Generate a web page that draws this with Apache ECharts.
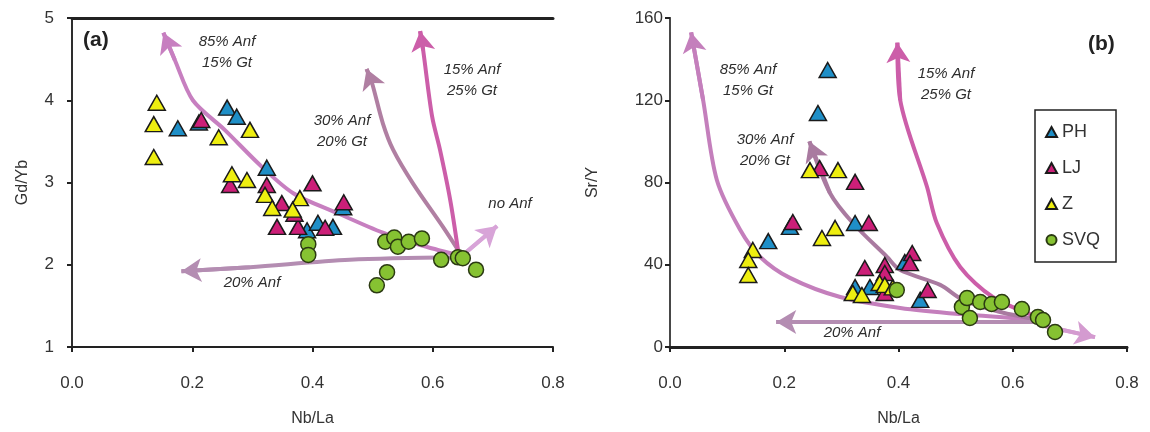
<!DOCTYPE html>
<html>
<head>
<meta charset="utf-8">
<script src="https://cdn.jsdelivr.net/npm/echarts@6/dist/echarts.min.js"></script>
<style>
  html, body { margin: 0; padding: 0; background: #fff; }
  #chart { width: 1150px; height: 432px; }
</style>
</head>
<body>
<div id="chart"></div>
<script>
// panel (a) Gd/Yb vs Nb/La
const phA = [[0.176, 3.66], [0.258, 3.91], [0.274, 3.80], [0.211, 3.73], [0.324, 3.18], [0.391, 2.42], [0.409, 2.51], [0.434, 2.46], [0.451, 2.70]];
const ljA = [[0.215, 3.76], [0.263, 2.97], [0.324, 2.97], [0.349, 2.75], [0.341, 2.46], [0.376, 2.46], [0.370, 2.62], [0.400, 2.99], [0.421, 2.45], [0.452, 2.76]];
const zA = [[0.141, 3.97], [0.136, 3.71], [0.136, 3.31], [0.244, 3.55], [0.296, 3.64], [0.266, 3.10], [0.291, 3.03], [0.321, 2.85], [0.333, 2.69], [0.379, 2.81], [0.367, 2.67]];
const svqA = [[0.393, 2.25], [0.393, 2.12], [0.521, 2.28], [0.536, 2.33], [0.542, 2.22], [0.560, 2.28], [0.582, 2.32], [0.614, 2.06], [0.642, 2.09], [0.650, 2.08], [0.672, 1.94], [0.524, 1.91], [0.507, 1.75]];

// panel (b) Sr/Y vs Nb/La
const phB = [[0.276, 134.7], [0.259, 113.8], [0.172, 51.5], [0.210, 58.4], [0.324, 60.3], [0.324, 29.2], [0.350, 29.2], [0.411, 41.3], [0.438, 22.9]];
const ljB = [[0.262, 87], [0.324, 80.3], [0.215, 60.8], [0.348, 60.3], [0.341, 38.4], [0.376, 39.9], [0.376, 36], [0.424, 45.7], [0.420, 40.8], [0.451, 27.7], [0.376, 26.3]];
const zB = [[0.245, 86], [0.294, 86], [0.145, 47.2], [0.137, 42.3], [0.137, 35], [0.266, 53], [0.289, 57.9], [0.320, 26.3], [0.336, 25.3], [0.367, 31.1], [0.376, 30.2], [0.390, 29]];
const svqB = [[0.397, 27.7], [0.511, 19.5], [0.520, 23.8], [0.525, 14.1], [0.543, 21.9], [0.563, 20.9], [0.581, 21.9], [0.616, 18.5], [0.644, 14.6], [0.653, 13.1], [0.674, 7.3]];

// model curves (start at source, end at arrow head)
const a85 = [[0.640, 2.12], [0.579, 2.24], [0.517, 2.39], [0.441, 2.63], [0.368, 2.87], [0.313, 3.21], [0.254, 3.64], [0.201, 4.00], [0.171, 4.49], [0.152, 4.82]];
const a30 = [[0.642, 2.18], [0.617, 2.46], [0.567, 2.99], [0.534, 3.40], [0.517, 3.72], [0.499, 4.21], [0.490, 4.38]];
const a15 = [[0.642, 2.18], [0.629, 2.79], [0.612, 3.40], [0.599, 3.80], [0.584, 4.61], [0.579, 4.84]];
const a20 = [[0.640, 2.09], [0.462, 2.06], [0.296, 1.97], [0.182, 1.92]];
const aNo = [[0.657, 2.16], [0.707, 2.47]];

const b85 = [[0.648, 13.1], [0.508, 16.0], [0.403, 19.0], [0.298, 24.3], [0.210, 33.6], [0.158, 43.8], [0.123, 56.9], [0.082, 81.2], [0.058, 120.1], [0.037, 153]];
const b30 = [[0.648, 13.1], [0.578, 17.0], [0.513, 22.9], [0.473, 30.2], [0.403, 37.4], [0.380, 43.8], [0.320, 60.3], [0.280, 74.9], [0.244, 100]];
const b15 = [[0.648, 14.1], [0.565, 24.3], [0.508, 38.9], [0.467, 60.3], [0.450, 77.8], [0.403, 120.1], [0.398, 148]];
const b20 = [[0.648, 12.2], [0.186, 12.2]];
const bNo = [[0.648, 10.7], [0.744, 4.8]];

const FONT = 'Liberation Sans, Arial, sans-serif';
const chart = echarts.init(document.getElementById('chart'));

function pts(name, data, i, symbol, color, border) {
  return {
    name: name,
    type: 'scatter',
    xAxisIndex: i,
    yAxisIndex: i,
    data: data,
    symbol: symbol,
    symbolSize: symbol === 'circle' ? 15 : [17, 15],
    z: 5,
    itemStyle: {color: color, borderColor: border, borderWidth: 1.5, opacity: 1}
  };
}

function curve(data, i, color) {
  const n = data.length;
  return {
    type: 'line',
    xAxisIndex: i,
    yAxisIndex: i,
    data: data,
    smooth: 0.3,
    showSymbol: false,
    symbol: 'none',
    silent: true,
    z: 2,
    lineStyle: {color: color, width: 4},
    markLine: {
      silent: true,
      symbol: ['none', 'arrow'],
      symbolSize: [18, 20],
      label: {show: false},
      lineStyle: {color: color, width: 4, type: 'solid'},
      data: [[{coord: data[n - 2]}, {coord: data[n - 1]}]]
    }
  };
}

function xAx(i) {
  return {
    type: 'value', gridIndex: i, min: 0, max: 0.8, interval: 0.2,
    name: 'Nb/La', nameLocation: 'middle', nameGap: 64,
    nameTextStyle: {fontFamily: FONT, fontSize: 16, color: '#333'},
    axisLine: {show: true, lineStyle: {color: '#222', width: 2}},
    axisTick: {show: true, length: 5, lineStyle: {color: '#222', width: 2}},
    axisLabel: {fontFamily: FONT, fontSize: 17, color: '#333', margin: 28, formatter: (v) => v.toFixed(1)},
    splitLine: {show: false}
  };
}

function yAx(i, min, max, interval, name, gap, margin) {
  return {
    type: 'value', gridIndex: i, min: min, max: max, interval: interval,
    name: name, nameLocation: 'middle', nameGap: gap, nameRotate: 90,
    nameTextStyle: {fontFamily: FONT, fontSize: 16, color: '#333'},
    axisLine: {show: true, lineStyle: {color: '#222', width: 2}},
    axisTick: {show: true, length: 5, lineStyle: {color: '#222', width: 2}},
    axisLabel: {fontFamily: FONT, fontSize: 17, color: '#333', margin: margin},
    splitLine: {show: false}
  };
}

function frameX(i, w) {
  return {type: 'value', gridIndex: i, position: 'top', min: 0, max: 0.8,
    axisLine: {show: true, lineStyle: {color: '#222', width: w}},
    axisTick: {show: false}, axisLabel: {show: false}, splitLine: {show: false}};
}
function frameY(i, min, max, c) {
  return {type: 'value', gridIndex: i, position: 'right', min: min, max: max,
    axisLine: {show: true, lineStyle: {color: c, width: 1.5}},
    axisTick: {show: false}, axisLabel: {show: false}, splitLine: {show: false}};
}

function note(x, y, lines, extra) {
  return Object.assign({
    type: 'text', x: x, y: y, z: 10,
    style: {
      text: lines, fill: '#2e2e2e', font: 'italic 15px ' + FONT,
      align: 'center', verticalAlign: 'middle', lineHeight: 21
    }
  }, extra || {});
}

const colPH = '#1f8fc7', colLJ = '#cc1f78', colZ = '#eeee10', colSVQ = '#86c232';

chart.setOption({
  animation: false,
  backgroundColor: '#fff',
  grid: [
    {left: 72, top: 18, width: 481, height: 329},
    {left: 670, top: 18, width: 457, height: 329}
  ],
  xAxis: [xAx(0), xAx(1), frameX(0, 3), frameX(1, 3)],
  yAxis: [
    yAx(0, 1, 5, 1, 'Gd/Yb', 41, 18),
    yAx(1, 0, 160, 40, 'Sr/Y', 69, 7),
    frameY(0, 1, 5, '#333'), frameY(1, 0, 160, '#555')
  ],
  legend: {
    data: ['PH', 'LJ', 'Z', 'SVQ'],
    orient: 'vertical',
    left: 1035, top: 110,
    padding: [13, 16, 13, 10],
    itemGap: 18,
    itemWidth: 11, itemHeight: 10,
    backgroundColor: '#fff',
    borderColor: '#222', borderWidth: 1.5, borderRadius: 0,
    textStyle: {fontFamily: FONT, fontSize: 18, color: '#333'},
    selectedMode: false
  },
  graphic: [
    {type: 'text', x: 83, y: 30, z: 10, style: {text: '(a)', font: 'bold 21px ' + FONT, fill: '#222'}},
    {type: 'text', x: 1088, y: 34, z: 10, style: {text: '(b)', font: 'bold 21px ' + FONT, fill: '#222'}},
    note(227, 52, '85% Anf\n15% Gt'),
    note(342, 131, '30% Anf\n20% Gt'),
    note(472, 80, '15% Anf\n25% Gt'),
    note(252, 283, '20% Anf'),
    note(510, 204, 'no Anf'),
    note(748, 80, '85% Anf\n15% Gt'),
    note(765, 150, '30% Anf\n20% Gt'),
    note(946, 84, '15% Anf\n25% Gt'),
    note(852, 333, '20% Anf'),
    note(1090, 320, 'no Anf', {rotation: -0.45, originX: 1090, originY: 320})
  ],
  series: [
    curve(a85, 0, '#c77fc0'),
    curve(a30, 0, '#b07fa2'),
    curve(a15, 0, '#cc5ea9'),
    curve(a20, 0, '#b48db2'),
    curve(aNo, 0, '#d8a4d8'),
    curve(b85, 1, '#c47fbc'),
    curve(b30, 1, '#a97aa0'),
    curve(b15, 1, '#cc5ea9'),
    curve(b20, 1, '#b48db2'),
    curve(bNo, 1, '#d49bd0'),
    pts('PH', phA, 0, 'triangle', colPH, '#1a1a1a'),
    pts('LJ', ljA, 0, 'triangle', colLJ, '#1a1a1a'),
    pts('Z', zA, 0, 'triangle', colZ, '#1a1a1a'),
    pts('SVQ', svqA, 0, 'circle', colSVQ, '#2b3a12'),
    pts('PH', phB, 1, 'triangle', colPH, '#1a1a1a'),
    pts('LJ', ljB, 1, 'triangle', colLJ, '#1a1a1a'),
    pts('Z', zB, 1, 'triangle', colZ, '#1a1a1a'),
    pts('SVQ', svqB, 1, 'circle', colSVQ, '#2b3a12')
  ]
});
</script>
</body>
</html>
